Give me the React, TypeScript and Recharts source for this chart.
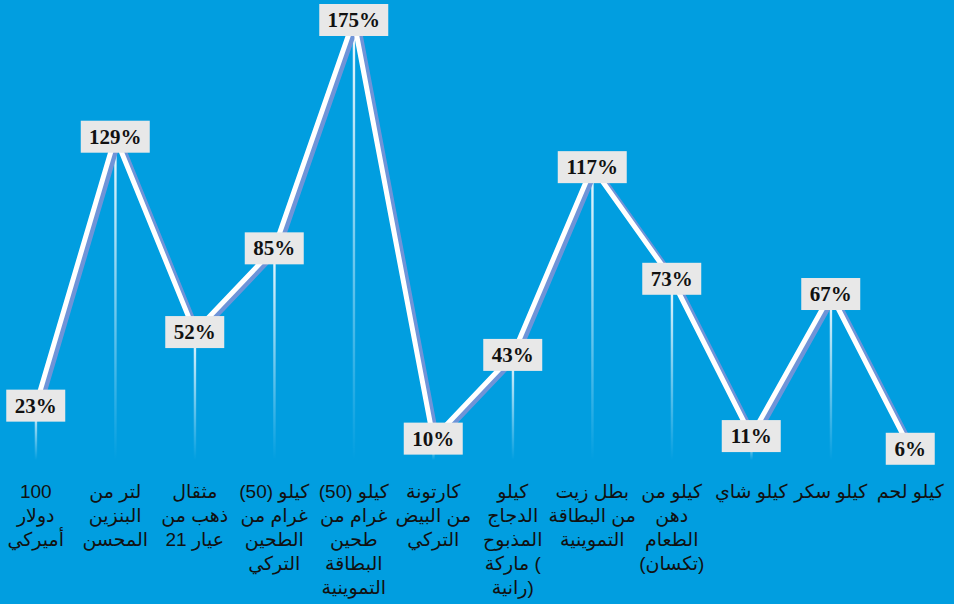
import { ComposedChart, Line, Bar, XAxis, YAxis, LabelList } from 'recharts'

const items = ['usd', 'petrol', 'gold', 'flourTr', 'flourCard', 'eggs', 'chicken', 'oil', 'ghee', 'tea', 'sugar', 'meat']
const rises = [23, 129, 52, 85, 175, 10, 43, 117, 73, 11, 67, 6]
const tickLines = [
  ['100', 'دولار', 'أميركي'],
  ['لتر من', 'البنزين', 'المحسن'],
  ['مثقال', 'ذهب من', 'عيار 21'],
  ['(50) كيلو', 'غرام من', 'الطحين', 'التركي'],
  ['(50) كيلو', 'غرام من', 'طحين', 'البطاقة', 'التموينية'],
  ['كارتونة', 'من البيض', 'التركي'],
  ['كيلو', 'الدجاج', 'المذبوح', 'ماركة (', 'رانية)'],
  ['بطل زيت', 'من البطاقة', 'التموينية'],
  ['كيلو من', 'دهن', 'الطعام', '(تكسان)'],
  ['كيلو شاي'],
  ['كيلو سكر'],
  ['كيلو لحم'],
]

const data = items.map((item, i) => ({ item, rise: rises[i] }))

const BG = '#019ee0'

function ItemTick({ x, y, payload }: any) {
  const lines = tickLines[payload.index] || []
  return (
    <g>
      {lines.map((t, i) => (
        <text
          key={i}
          x={x}
          y={y + 34 + i * 24}
          textAnchor="middle"
          fill="#111"
          fontSize={19}
          fontFamily="'Liberation Sans', Arial, 'DejaVu Sans', sans-serif"
        >
          {t}
        </text>
      ))}
    </g>
  )
}

function DropLine({ x, y, width, height }: any) {
  if (!height || height <= 0) return null
  return <rect x={x + width / 2 - 1.2} y={y} width={2.4} height={height - 4} fill="url(#dropFade)" />
}

function PctLabel({ x, y, value }: any) {
  const txt = `${value}%`
  const w = String(value).length * 10 + 17 + 22
  return (
    <g>
      <rect x={x - w / 2} y={y - 16} width={w} height={32} fill="#e8e8e8" />
      <text
        x={x}
        y={y + 7}
        textAnchor="middle"
        fontSize={21}
        fontWeight="bold"
        fontFamily="'Liberation Serif', 'Times New Roman', serif"
        fill="#111"
      >
        {txt}
      </text>
    </g>
  )
}

export default function App() {
  return (
    <div style={{ position: 'fixed', left: 0, top: 0, width: 954, height: 604, background: BG }}>
      <ComposedChart width={954} height={604} data={data} margin={{ top: 20, right: 4, left: -4, bottom: 0 }}>
        <defs>
          <linearGradient id="dropFade" x1="0" y1="0" x2="0" y2="1">
            <stop offset="0%" stopColor="#ffffff" stopOpacity={0.95} />
            <stop offset="100%" stopColor="#ffffff" stopOpacity={0} />
          </linearGradient>
        </defs>
        <XAxis
          dataKey="item"
          height={140}
          axisLine={false}
          tickLine={false}
          tickSize={0}
          tickMargin={0}
          interval={0}
          tick={<ItemTick />}
        />
        <YAxis hide domain={[0, 175]} />
        <Bar dataKey="rise" shape={<DropLine />} isAnimationActive={false} />
        <Line
          dataKey="rise"
          stroke="#ffffff"
          strokeWidth={5}
          dot={false}
          activeDot={false}
          type="linear"
          style={{ filter: 'drop-shadow(4px 2px 0 #6f94d8)' }}
          isAnimationActive={false}
        />
        <Line dataKey="rise" stroke="none" dot={false} activeDot={false} isAnimationActive={false}>
          <LabelList dataKey="rise" content={<PctLabel />} />
        </Line>
      </ComposedChart>
    </div>
  )
}
